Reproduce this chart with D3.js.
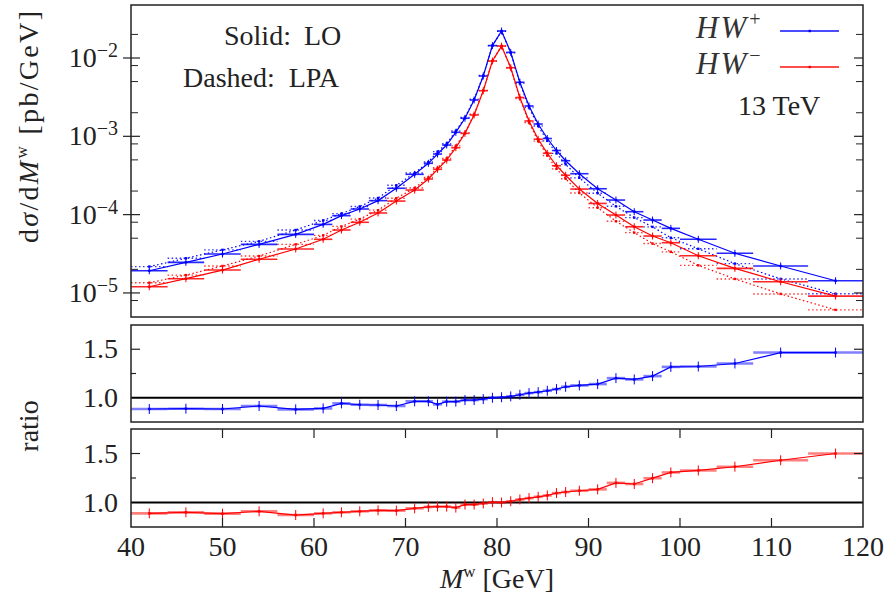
<!DOCTYPE html>
<html>
<head>
<meta charset="utf-8">
<script src="https://cdn.jsdelivr.net/npm/d3@7"></script>
<style>
  body { margin: 0; background: #fff; }
  text { font-family: "Liberation Serif", "DejaVu Serif", serif; fill: #222; }
</style>
</head>
<body>
<svg id="chart" width="890" height="601"></svg>
<script>
// bin edges of the M^W histogram (GeV)
const binEdges = [40, 44, 48, 52, 56, 60, 62, 64, 66, 68, 70, 72,
  73, 74, 75, 76, 77, 78, 79, 80, 81, 82, 83, 84, 85, 86, 87, 88,
  90, 92, 94, 96, 98, 100, 104, 108, 114, 120];

// d sigma / dM^W [pb/GeV], one value per bin
const loPlus = [1.92e-5, 2.46e-5, 3.14e-5, 4.17e-5, 5.6e-5, 7.5e-5, 9.7e-5, 1.18e-4, 1.51e-4, 2.17e-4, 3.27e-4,
  4.52e-4, 5.94e-4, 7.74e-4, 1.125e-3, 1.70e-3, 2.91e-3, 5.89e-3, 1.44e-2, 2.21e-2, 1.18e-2, 4.90e-3, 2.44e-3,
  1.435e-3, 9.37e-4, 6.59e-4, 4.88e-4, 3.33e-4, 2.14e-4, 1.535e-4, 1.09e-4, 8.53e-5, 6.68e-5, 4.84e-5, 3.21e-5,
  2.21e-5, 1.43e-5];
const lpaPlus = [2.17e-5, 2.77e-5, 3.55e-5, 4.56e-5, 6.36e-5, 8.43e-5, 1.03e-4, 1.27e-4, 1.63e-4, 2.37e-4, 3.40e-4,
  4.69e-4, 6.37e-4, 8.06e-4, 1.17e-3, 1.74e-3, 2.98e-3, 5.97e-3, 1.44e-2, 2.20e-2, 1.164e-2, 4.75e-3, 2.33e-3,
  1.356e-3, 8.74e-4, 6.05e-4, 4.38e-4, 2.95e-4, 1.875e-4, 1.277e-4, 9.17e-5, 6.97e-5, 5.07e-5, 3.66e-5, 2.37e-5,
  1.51e-5, 9.75e-6];
const loMinus = [1.20e-5, 1.52e-5, 1.96e-5, 2.69e-5, 3.64e-5, 4.84e-5, 6.36e-5, 7.98e-5, 1.05e-4, 1.49e-4, 2.06e-4,
  2.85e-4, 3.79e-4, 4.98e-4, 7.15e-4, 1.09e-3, 1.87e-3, 3.82e-3, 9.16e-3, 1.42e-2, 7.52e-3, 3.13e-3, 1.57e-3,
  9.18e-4, 6.07e-4, 4.21e-4, 3.18e-4, 2.12e-4, 1.39e-4, 9.88e-5, 7.0e-5, 5.33e-5, 4.38e-5, 2.99e-5, 2.06e-5,
  1.39e-5, 9.12e-6];
const lpaMinus = [1.35e-5, 1.69e-5, 2.21e-5, 2.96e-5, 4.17e-5, 5.44e-5, 7.07e-5, 8.77e-5, 1.14e-4, 1.62e-4, 2.19e-4,
  2.98e-4, 3.96e-4, 5.20e-4, 7.54e-4, 1.113e-3, 1.91e-3, 3.86e-3, 9.13e-3, 1.42e-2, 7.42e-3, 3.04e-3, 1.50e-3,
  8.68e-4, 5.66e-4, 3.84e-4, 2.87e-4, 1.89e-4, 1.226e-4, 8.23e-5, 5.89e-5, 4.27e-5, 3.35e-5, 2.25e-5, 1.51e-5,
  9.71e-6, 6.08e-6];

// LO / LPA
const ratioPlus = [0.884, 0.887, 0.884, 0.915, 0.88, 0.89, 0.942, 0.928, 0.925, 0.915, 0.963,
  0.963, 0.932, 0.96, 0.96, 0.976, 0.976, 0.986, 1.0, 1.005, 1.014, 1.031, 1.048, 1.058, 1.072, 1.089, 1.113,
  1.127, 1.141, 1.202, 1.189, 1.223, 1.318, 1.322, 1.353, 1.466, 1.466];
const ratioMinus = [0.889, 0.9, 0.886, 0.91, 0.872, 0.889, 0.9, 0.91, 0.92, 0.917, 0.941,
  0.955, 0.958, 0.958, 0.948, 0.979, 0.979, 0.99, 1.003, 1.0, 1.013, 1.031, 1.045, 1.058, 1.072, 1.096, 1.107,
  1.12, 1.134, 1.2, 1.189, 1.248, 1.307, 1.327, 1.365, 1.431, 1.5];

const xTicks = [40, 50, 60, 70, 80, 90, 100, 110, 120];
const decades = [1e-5, 1e-4, 1e-3, 1e-2];
const ratioTicks = [1.0, 1.5];

const blue = "#0000ff", red = "#ff0000", ink = "#222";

const svg = d3.select("#chart");
const left = 131, right = 863;
const x = d3.scaleLinear().domain([40, 120]).range([left, right]);
const y = d3.scaleLog().domain([4.93e-6, 4.75e-2]).range([317, 5]);
const yr1 = d3.scaleLinear().domain([0.75, 1.75]).range([422, 325]);
const yr2 = d3.scaleLinear().domain([0.75, 1.75]).range([527, 429]);

const bins = d3.pairs(binEdges).map(([lo, hi]) => ({lo: lo, hi: hi, c: (lo + hi) / 2}));

function clipFor(id, ys) {
  svg.append("clipPath").attr("id", id).append("rect")
    .attr("x", left).attr("y", ys.range()[1])
    .attr("width", right - left).attr("height", ys.range()[0] - ys.range()[1]);
  return svg.append("g").attr("clip-path", "url(#" + id + ")");
}

function drawSeries(g, vals, ys, color, o) {
  const data = bins.map((b, i) => Object.assign({v: vals[i]}, b));
  const dash = o.dashed ? "1.5,2.5" : null;
  g.append("g").selectAll("line").data(data).join("line")
    .attr("x1", d => x(d.lo)).attr("x2", d => x(d.hi))
    .attr("y1", d => ys(d.v)).attr("y2", d => ys(d.v))
    .attr("stroke", color).attr("stroke-width", o.barWidth)
    .attr("stroke-opacity", o.barOpacity)
    .attr("stroke-dasharray", dash);
  const line = d3.line().x(d => x(d.c)).y(d => ys(d.v));
  g.append("path").datum(data)
    .attr("fill", "none").attr("stroke", color)
    .attr("stroke-width", 1.2)
    .attr("stroke-dasharray", dash)
    .attr("d", line);
  if (o.err) {
    g.append("g").selectAll("line").data(data).join("line")
      .attr("x1", d => x(d.c)).attr("x2", d => x(d.c))
      .attr("y1", d => ys(d.v) - o.err).attr("y2", d => ys(d.v) + o.err)
      .attr("stroke", color).attr("stroke-width", 1);
  }
  g.append("g").selectAll("rect").data(data).join("rect")
    .attr("x", d => x(d.c) - 1.2).attr("y", d => ys(d.v) - 1.2)
    .attr("width", 2.4).attr("height", 2.4)
    .attr("fill", color);
}

// ---- top panel ----
const gTop = clipFor("clipTop", y);
drawSeries(gTop, lpaPlus, y, blue, {dashed: true, barWidth: 1.4, barOpacity: 0.8});
drawSeries(gTop, lpaMinus, y, red, {dashed: true, barWidth: 1.4, barOpacity: 0.8});
drawSeries(gTop, loPlus, y, blue, {barWidth: 1.6, barOpacity: 0.85, err: 3.5});
drawSeries(gTop, loMinus, y, red, {barWidth: 1.6, barOpacity: 0.85, err: 3.5});

// log ticks
const minors = [];
decades.concat([1e-6]).forEach(d => [2, 5, 8].forEach(m => {
  const v = d * m;
  if (v > 5.3e-6 && v < 4.7e-2) minors.push(v);
}));
const axTop = svg.append("g");
axTop.selectAll(".maj").data(decades).join("line")
  .attr("x1", left - 8).attr("x2", left + 9)
  .attr("y1", d => y(d)).attr("y2", d => y(d))
  .attr("stroke", ink).attr("stroke-width", 1.2);
axTop.selectAll(".majr").data(decades).join("line")
  .attr("x1", right - 9).attr("x2", right)
  .attr("y1", d => y(d)).attr("y2", d => y(d))
  .attr("stroke", ink).attr("stroke-width", 1.2);
axTop.selectAll(".min").data(minors).join("line")
  .attr("x1", left).attr("x2", left + 7)
  .attr("y1", d => y(d)).attr("y2", d => y(d))
  .attr("stroke", ink).attr("stroke-width", 1);
axTop.selectAll(".minr").data(minors).join("line")
  .attr("x1", right - 7).attr("x2", right)
  .attr("y1", d => y(d)).attr("y2", d => y(d))
  .attr("stroke", ink).attr("stroke-width", 1);
decades.forEach(d => {
  const t = svg.append("text").attr("x", 118).attr("y", y(d) + 9)
    .attr("text-anchor", "end").attr("font-size", 28).text("10");
  t.append("tspan").attr("dy", -10).attr("font-size", 20)
    .text("\u2212" + Math.round(-Math.log10(d)));
});

// ---- ratio panels ----
function ratioPanel(id, ys, vals, color) {
  const g = clipFor(id, ys);
  g.append("line").attr("x1", left).attr("x2", right)
    .attr("y1", ys(1)).attr("y2", ys(1))
    .attr("stroke", "#000").attr("stroke-width", 2);
  drawSeries(g, vals, ys, color, {barWidth: 2.6, barOpacity: 0.5, err: 5});
  const ax = svg.append("g");
  [[1.5, 9], [1.25, 5]].forEach(([v, len]) => {
    ax.append("line").attr("x1", left).attr("x2", left + len)
      .attr("y1", ys(v)).attr("y2", ys(v)).attr("stroke", ink).attr("stroke-width", 1.2);
    ax.append("line").attr("x1", right - len).attr("x2", right)
      .attr("y1", ys(v)).attr("y2", ys(v)).attr("stroke", ink).attr("stroke-width", 1.2);
  });
  ax.selectAll("text").data(ratioTicks).join("text")
    .attr("x", 118).attr("y", d => ys(d) + 9)
    .attr("text-anchor", "end").attr("font-size", 28)
    .text(d => d3.format(".1f")(d));
}
ratioPanel("clipMid", yr1, ratioPlus, blue);
ratioPanel("clipBot", yr2, ratioMinus, red);

// x ticks on the bottom panel
const axX = svg.append("g");
axX.selectAll(".xt").data(xTicks.slice(1, -1)).join("line")
  .attr("x1", d => x(d)).attr("x2", d => x(d))
  .attr("y1", 429).attr("y2", 438).attr("stroke", ink).attr("stroke-width", 1.2);
axX.selectAll(".xb").data(xTicks.slice(1, -1)).join("line")
  .attr("x1", d => x(d)).attr("x2", d => x(d))
  .attr("y1", 518).attr("y2", 527).attr("stroke", ink).attr("stroke-width", 1.2);
axX.selectAll("text").data(xTicks).join("text")
  .attr("x", d => x(d)).attr("y", 556)
  .attr("text-anchor", "middle").attr("font-size", 28)
  .text(d => d);

// frames
[[5, 317], [325, 422], [429, 527]].forEach(([t, b]) => {
  svg.append("rect").attr("x", left).attr("y", t)
    .attr("width", right - left).attr("height", b - t)
    .attr("fill", "none").attr("stroke", ink).attr("stroke-width", 1.5);
});

// axis titles
const xl = svg.append("text").attr("x", 497).attr("y", 588)
  .attr("text-anchor", "middle").attr("font-size", 28);
xl.append("tspan").attr("font-style", "italic").text("M");
xl.append("tspan").attr("dy", -11).attr("font-size", 17).text("w");
xl.append("tspan").attr("dy", 11).text(" [GeV]");

const yl = svg.append("text").attr("transform", "translate(38,127) rotate(-90)")
  .attr("text-anchor", "middle").attr("font-size", 28)
  .attr("textLength", 232).attr("lengthAdjust", "spacing");
yl.append("tspan").text("d");
yl.append("tspan").attr("font-style", "italic").text("\u03c3");
yl.append("tspan").text("/d");
yl.append("tspan").attr("font-style", "italic").text("M");
yl.append("tspan").attr("dy", -11).attr("font-size", 17).text("w");
yl.append("tspan").attr("dy", 11).text(" [pb/GeV]");

svg.append("text").attr("transform", "translate(38,426) rotate(-90)")
  .attr("text-anchor", "middle").attr("font-size", 28).text("ratio");

// annotations
const a1 = svg.append("text").attr("x", 224).attr("y", 45).attr("font-size", 28).text("Solid:");
a1.append("tspan").attr("dx", 13).text("LO");
const a2 = svg.append("text").attr("x", 183).attr("y", 87).attr("font-size", 28).text("Dashed:");
a2.append("tspan").attr("dx", 14).text("LPA");
svg.append("text").attr("x", 738).attr("y", 115).attr("font-size", 28).text("13 TeV");

// legend
const legend = [{name: "HW", sign: "+", color: blue, ly: 31, ty: 38},
                {name: "HW", sign: "\u2212", color: red, ly: 67, ty: 74}];
legend.forEach(l => {
  const t = svg.append("text").attr("x", 696).attr("y", l.ty).attr("font-size", 31)
    .style("fill", "#333");
  t.append("tspan").attr("font-style", "italic").attr("letter-spacing", 2).text(l.name);
  t.append("tspan").attr("dx", 1).attr("dy", -12).attr("font-size", 20).text(l.sign);
  svg.append("line").attr("x1", 780).attr("x2", 839).attr("y1", l.ly).attr("y2", l.ly)
    .attr("stroke", l.color).attr("stroke-width", 2).attr("stroke-opacity", 0.7);
  svg.append("rect").attr("x", 808.5).attr("y", l.ly - 1.2).attr("width", 2.4).attr("height", 2.4)
    .attr("fill", l.color);
});
</script>
</body>
</html>
